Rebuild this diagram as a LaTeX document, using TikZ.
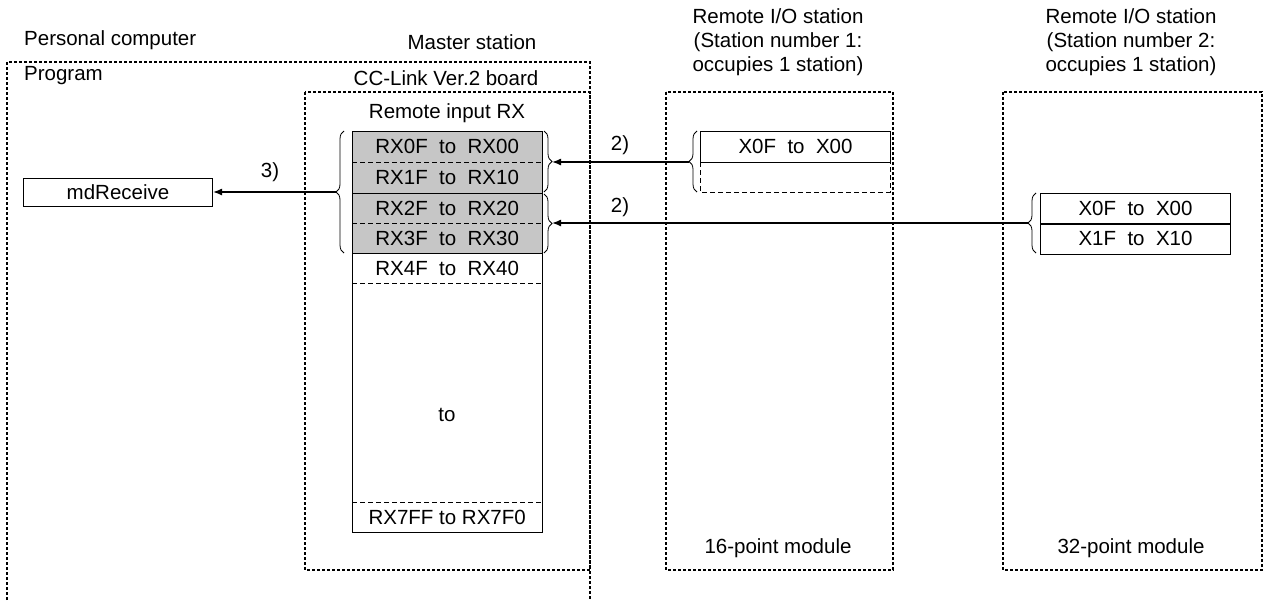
\documentclass[tikz,border=0pt]{standalone}
\usepackage{fontspec}
\setmainfont{Liberation Sans}
\usetikzlibrary{arrows.meta,decorations.pathreplacing}
\begin{document}
\begin{tikzpicture}[x=1pt,y=-1pt,
  font=\fontsize{20.5}{24}\selectfont,
  frame/.style={line width=1.6pt,dash pattern=on 3pt off 2pt},
  cell/.style={minimum width=190pt,minimum height=30.5pt,inner sep=0pt,anchor=north west},
  tbl/.style={line width=1pt},
  dsh/.style={line width=0.8pt,dash pattern=on 5pt off 3pt},
  arr/.style={line width=1.4pt,-{Latex[length=9pt,width=7pt]}},
  brc/.style={line width=0.8pt,decorate,decoration={brace,amplitude=8pt}},
  lbl/.style={inner sep=0pt}]
\useasboundingbox (0,0) rectangle (1271,600);
% frames
\draw[frame] (7,600) -- (7,62) -- (590,62) -- (590,600);
\draw[frame] (305,92) rectangle (590,570);
\draw[frame] (666,92) rectangle (893,570);
\draw[frame] (1003,92) rectangle (1262,570);
% titles
\node[lbl,anchor=west] (tpc) at (24,40) {Personal computer};
\node[lbl] (tms) at (472,42) {Master station};
\node[lbl] (tbd) at (446,78) {CC-Link Ver.2 board};
\node[lbl,anchor=west] (tpg) at (24,76) {Program};
\node[lbl] (trx) at (447,113) {Remote input RX};
\node[lbl,align=center] (ts1) at (778,42) {Remote I/O station\\(Station number 1:\\occupies 1 station)};
\node[lbl,align=center] (ts2) at (1131,42) {Remote I/O station\\(Station number 2:\\occupies 1 station)};
% RX table
\fill[gray!45] (352,131) rectangle (542,253);
\node[cell] (r0) at (352,131) {RX0F\ \ to\ \ RX00};
\node[cell] (r1) at (352,162) {RX1F\ \ to\ \ RX10};
\node[cell] (r2) at (352,193) {RX2F\ \ to\ \ RX20};
\node[cell] (r3) at (352,223) {RX3F\ \ to\ \ RX30};
\node[cell] (r4) at (352,253) {RX4F\ \ to\ \ RX40};
\node[lbl] (rto) at (447,415) {to};
\node[cell] (r7) at (352,502) {RX7FF to RX7F0};
\draw[tbl] (352,131) rectangle (542,532);
\draw[tbl] (352,193) -- (542,193);
\draw[tbl] (352,253) -- (542,253);
\draw[dsh] (352,162) -- (542,162);
\draw[dsh] (352,223) -- (542,223);
\draw[dsh] (352,283) -- (542,283);
\draw[dsh] (352,502) -- (542,502);
% station 1 table
\node[cell,draw,tbl] (a0) at (700,131) {X0F\ \ to\ \ X00};
\draw[dsh] (700,162) -- (700,192) -- (890,192) -- (890,162);
% station 2 table
\node[cell,draw,tbl] (b0) at (1040,193) {X0F\ \ to\ \ X00};
\node[cell,draw,tbl] (b1) at (1040,223) {X1F\ \ to\ \ X10};
% module labels
\node[lbl] (m1) at (778,548) {16-point module};
\node[lbl] (m2) at (1131,548) {32-point module};
% mdReceive
\node[draw,tbl,minimum width=189pt,minimum height=28pt,inner sep=0pt] (md) at (118,192) {mdReceive};
% braces
\draw[brc] (344,253) -- (344,131);
\coordinate (lt) at (336,192);
\draw[brc] (544,131) -- (544,192);
\coordinate (rt1) at (552,162);
\draw[brc] (544,194) -- (544,253);
\coordinate (rt2) at (552,223);
\draw[brc] (697,192) -- (697,131);
\coordinate (s1t) at (689,162);
\draw[brc] (1036,253) -- (1036,193);
\coordinate (s2t) at (1028,223);
% arrows
\draw[arr] (lt) -- (md.east);
\draw[arr] (s1t) -- (rt1);
\draw[arr] (s2t) -- (rt2);
\node[lbl] (l3) at (270,172) {3)};
\node[lbl] (l2a) at (620,145) {2)};
\node[lbl] (l2b) at (620,207) {2)};
\end{tikzpicture}
\end{document}
